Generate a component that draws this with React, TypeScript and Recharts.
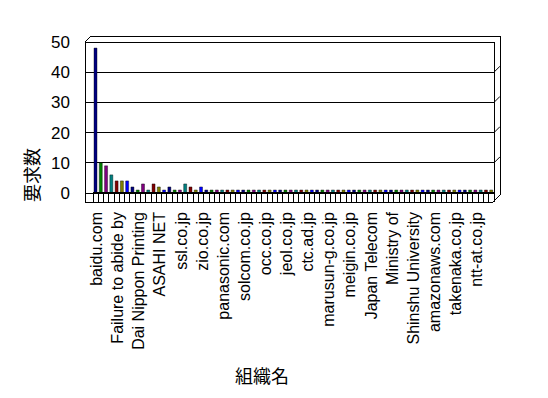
import React from 'react';
import { BarChart, Bar, XAxis, YAxis, CartesianGrid, Cell } from 'recharts';

// every 4th organisation gets a label on the axis
const ORG_LABELS = [
  'baidu.com', 'Failure to abide by', 'Dai Nippon Printing', 'ASAHI NET', 'ssl.co.jp',
  'zio.co.jp', 'panasonic.com', 'solcom.co.jp', 'occ.co.jp', 'jeol.co.jp', 'ctc.ad.jp',
  'marusun-g.co.jp', 'meigin.co.jp', 'Japan Telecom', 'Ministry of', 'Shinshu University',
  'amazonaws.com', 'takenaka.co.jp', 'ntt-at.co.jp',
];
const LABEL_STEP = 4;

const REQUESTS = [
  48, 10, 9, 6, 4, 4, 4, 2, 1, 3, 1, 3, 2, 1, 2, 1, 1, 3, 2, 1,
  2, 1, 1, 1, 1, 1, 1, 1, 1, 1, 1, 1, 1, 1, 1, 1, 1, 1, 1, 1,
  1, 1, 1, 1, 1, 1, 1, 1, 1, 1, 1, 1, 1, 1, 1, 1, 1, 1, 1, 1,
  1, 1, 1, 1, 1, 1, 1, 1, 1, 1, 1, 1, 1, 1, 1, 1,
];
const Y_TICKS = [0, 10, 20, 30, 40, 50];
const BAR_COLORS = ['#000080', '#008000', '#800080', '#008080', '#800000', '#808000', '#0000ff'];

const data = REQUESTS.map((v, i) => ({
  org: i % LABEL_STEP === 0 ? ORG_LABELS[i / LABEL_STEP] : '',
  count: v,
}));

const W = 532;
const H = 382;
const L = 77, R = 486, T = 34, B = 185; // plot area in chart coords
const PAD = 8; // left wall
const BAND = (R - L - PAD) / REQUESTS.length;
const DX = 6, DY = 6;
const LATIN = '"Liberation Sans", Arial, sans-serif';
const CJK = '"Noto Sans CJK JP", sans-serif';

function OrgTick(props: any) {
  const { x, y, index } = props;
  const half = BAND / 2;
  const label = index % LABEL_STEP === 0 ? ORG_LABELS[index / LABEL_STEP] : null;
  return (
    <g>
      <line x1={x - half} y1={y} x2={x - half} y2={y + 9} stroke="#000" shapeRendering="crispEdges" />
      {index === REQUESTS.length - 1 && (
        <line x1={x + half} y1={y} x2={x + half} y2={y + 9} stroke="#000" shapeRendering="crispEdges" />
      )}
      {label && (
        <text
          transform={`translate(${x + 1},${y + 19}) rotate(-90)`}
          textAnchor="end"
          dominantBaseline="central"
          fontSize={16}
          fontFamily={LATIN}
          fill="#000"
        >
          {label}
        </text>
      )}
    </g>
  );
}

function Frame() {
  const line = { stroke: '#000', strokeWidth: 1, shapeRendering: 'crispEdges' as const };
  return (
    <svg width={W} height={H} style={{ position: 'absolute', left: 0, top: 0, pointerEvents: 'none' }}>
      <line x1={L} y1={T} x2={L} y2={B + 9} {...line} />
      <line x1={L} y1={T} x2={L + DX} y2={T - DY} stroke="#000" />
      <line x1={L + DX} y1={T - DY} x2={R + DX} y2={T - DY} {...line} />
      <line x1={R} y1={T} x2={R} y2={B} {...line} />
      <line x1={R + DX} y1={T - DY} x2={R + DX} y2={B + 2} {...line} />
      {Y_TICKS.slice(1, -1).map((t) => {
        const yy = B - ((B - T) * t) / 50;
        return <line key={t} x1={R} y1={yy} x2={R + DX} y2={yy - DY} stroke="#000" />;
      })}
      <line x1={R - 1} y1={B + 9} x2={R + DX} y2={B + 2} stroke="#000" />
      <line x1={L} y1={B + 9} x2={R - 1} y2={B + 9} {...line} />
      <line x1={L + PAD} y1={B} x2={R} y2={B} stroke="#000" strokeWidth={2} shapeRendering="crispEdges" />
      <text
        transform="translate(23,167) rotate(-90)"
        textAnchor="middle"
        dominantBaseline="central"
        fontSize={18}
        fontFamily={CJK}
        fill="#000"
      >
        要求数
      </text>
      <text x={254} y={367} textAnchor="middle" dominantBaseline="central" fontSize={18} fontFamily={CJK} fill="#000">
        組織名
      </text>
    </svg>
  );
}

export default function App() {
  return (
    <div style={{ position: 'relative', width: W, height: H, background: '#fff' }}>
      <BarChart width={W} height={H} data={data} margin={{ top: T, right: W - R, left: 0, bottom: 7 }} barSize={3}>
        <CartesianGrid horizontal vertical={false} stroke="#000" strokeWidth={1} shapeRendering="crispEdges" />
        <XAxis
          dataKey="org"
          interval={0}
          padding={{ left: PAD, right: 0 }}
          axisLine={false}
          tickLine={false}
          tickSize={0}
          tickMargin={0}
          height={H - B - 7}
          tick={<OrgTick />}
        />
        <YAxis
          domain={[0, 50]}
          ticks={Y_TICKS}
          width={L}
          axisLine={false}
          tickLine={false}
          tickMargin={9}
          tick={{ fill: '#000', fontSize: 17, fontFamily: LATIN }}
        />
        <Bar dataKey="count" isAnimationActive={false} stroke="#000" strokeWidth={0.4}>
          {data.map((_, i) => (
            <Cell key={i} fill={BAR_COLORS[i % BAR_COLORS.length]} />
          ))}
        </Bar>
      </BarChart>
      <Frame />
    </div>
  );
}
